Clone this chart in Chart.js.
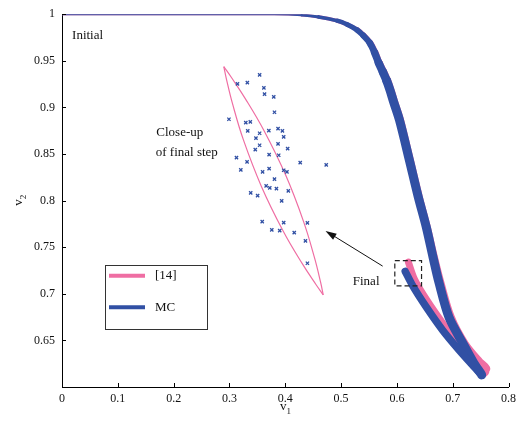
<!DOCTYPE html>
<html><head><meta charset="utf-8">
<script src="https://cdn.jsdelivr.net/npm/chart.js@4/dist/chart.umd.min.js"></script>
<style>html,body{margin:0;padding:0;background:#fff}#wrap{width:521px;height:424px}</style>
</head><body><div id="wrap"><canvas id="c" width="521" height="424"></canvas></div>
<script>
// ---- data ----
const xTickValues = [0, 0.1, 0.2, 0.3, 0.4, 0.5, 0.6, 0.7, 0.8];
const xTickLabels = ['0', '0.1', '0.2', '0.3', '0.4', '0.5', '0.6', '0.7', '0.8'];
const yTickValues = [0.6, 0.65, 0.7, 0.75, 0.8, 0.85, 0.9, 0.95, 1];
const yTickLabels = ['', '0.65', '0.7', '0.75', '0.8', '0.85', '0.9', '0.95', '1'];

// MC trajectory band (v1, v2)
const mcV1 = [0, 0.25, 0.38, 0.43, 0.46, 0.493, 0.511, 0.5284, 0.540, 0.5514, 0.560, 0.5674, 0.575, 0.5816, 0.588, 0.5940, 0.6046, 0.6223, 0.6383, 0.6525, 0.6649, 0.6755, 0.6933, 0.7181, 0.7376, 0.752,
              0.735, 0.711, 0.682, 0.6525, 0.629, 0.615];
const mcV2 = [1, 1, 1, 0.999, 0.997, 0.993, 0.989, 0.9832, 0.977, 0.9692, 0.959, 0.9477, 0.938, 0.9289, 0.918, 0.9063, 0.8866, 0.8437, 0.804, 0.772, 0.739, 0.712, 0.675, 0.647, 0.626, 0.613,
              0.624, 0.640, 0.661, 0.686, 0.708, 0.724];

// [14] trajectory band
const refV1 = [0, 0.25, 0.38, 0.43, 0.46, 0.493, 0.511, 0.5294, 0.541, 0.5524, 0.561, 0.5684, 0.576, 0.5826, 0.589, 0.5950, 0.6056, 0.6233, 0.6393, 0.6535, 0.6665, 0.678, 0.6965, 0.722, 0.748, 0.760,
               0.757, 0.735, 0.712, 0.684, 0.655, 0.632, 0.6206];
const refV2 = [1, 1, 1, 0.999, 0.997, 0.993, 0.989, 0.9832, 0.977, 0.9692, 0.959, 0.9477, 0.938, 0.9289, 0.918, 0.9063, 0.8866, 0.8437, 0.804, 0.772, 0.739, 0.712, 0.675, 0.646, 0.627, 0.620,
               0.615, 0.628, 0.645, 0.667, 0.692, 0.715, 0.734];

// close-up lens of the final step ([14]): right and left outlines, top vertex to bottom vertex
const lensRightV1 = [0.2899, 0.3030, 0.3278, 0.3618, 0.4009, 0.4330, 0.4525, 0.4634, 0.4681];
const lensRightV2 = [0.9438, 0.9326, 0.9100, 0.8752, 0.8271, 0.7772, 0.7385, 0.7122, 0.6988];
const lensLeftV1 = [0.2899, 0.2946, 0.3055, 0.3249, 0.3571, 0.3962, 0.4302, 0.4550, 0.4681];
const lensLeftV2 = [0.9438, 0.9304, 0.9040, 0.8654, 0.8155, 0.7674, 0.7326, 0.7100, 0.6988];

// close-up MC samples of the final step
const ptsV1 = [0.3541, 0.3144, 0.3321, 0.3617, 0.3629, 0.3794, 0.3807, 0.2991, 0.3293, 0.3374, 0.3871, 0.3949, 0.3328, 0.3541, 0.3706, 0.3972,
               0.3475, 0.3541, 0.3871, 0.3463, 0.4043, 0.3126, 0.3711, 0.3883, 0.3316, 0.4268, 0.4734, 0.3204, 0.3711, 0.3594, 0.3972, 0.4030,
               0.3807, 0.3658, 0.3723, 0.3842, 0.4055, 0.3381, 0.3505, 0.3936, 0.3587, 0.3972, 0.4397, 0.3759, 0.3901, 0.4161, 0.4362, 0.4397];
const ptsV2 = [0.9349, 0.9252, 0.9266, 0.9209, 0.9142, 0.9113, 0.8948, 0.8873, 0.8837, 0.8844, 0.8773, 0.8748, 0.8748, 0.8723, 0.8751, 0.8683,
               0.8670, 0.8594, 0.8608, 0.8547, 0.8558, 0.8461, 0.8494, 0.8487, 0.8415, 0.8408, 0.8383, 0.8329, 0.8343, 0.8308, 0.8326, 0.8308,
               0.8230, 0.8158, 0.8136, 0.8129, 0.8104, 0.8083, 0.8054, 0.7997, 0.7775, 0.7764, 0.7761, 0.7686, 0.7678, 0.7657, 0.7568, 0.7328];

const seriesNames = ['[14]', 'MC'];

// ---- styling ----
const BLUE = '#3150a4';
const PINK = '#ef6ea3';
const FONT = "'Liberation Serif', 'Times New Roman', serif";

const pairs = (xs, ys) => xs.map((x, i) => ({x: x, y: ys[i]}));
const tipIndex = xs => xs.indexOf(Math.max(...xs));

// band thickness grows smoothly as the trajectories spread out
function bandWidth(xs, lowWidth, returnWidth) {
  const tip = tipIndex(xs);
  return ctx => {
    if (ctx.p0DataIndex >= tip) return returnWidth;
    const y = (ctx.p0.parsed.y + ctx.p1.parsed.y) / 2;
    const f = Math.min(1, Math.max(0, (0.9995 - y) / 0.075));
    return 2 + (lowWidth - 2) * Math.sqrt(f);
  };
}

const annotate = {
  id: 'annotate',
  afterDatasetsDraw(chart) {
    const c = chart.ctx, xs = chart.scales.x, ys = chart.scales.y, a = chart.chartArea;
    const X = v => xs.getPixelForValue(v), Y = v => ys.getPixelForValue(v);
    c.save();
    // inward tick marks
    c.strokeStyle = '#000'; c.lineWidth = 1;
    c.beginPath();
    xTickValues.forEach(v => { const p = Math.round(X(v)) + 0.5; c.moveTo(p, a.bottom); c.lineTo(p, a.bottom - 4); });
    yTickValues.forEach(v => { const p = Math.round(Y(v)) + 0.5; c.moveTo(a.left, p); c.lineTo(a.left + 4, p); });
    c.stroke();

    // texts
    c.fillStyle = '#111';
    c.font = '13px ' + FONT;
    c.textBaseline = 'middle'; c.textAlign = 'left';
    c.fillText('Initial', X(0.018), Y(0.977));
    c.fillText('Close-up', X(0.169), Y(0.8726));
    c.fillText('of final step', X(0.168), Y(0.852));
    c.fillText('Final', X(0.521), Y(0.7128));

    // dashed box around final step
    c.strokeStyle = '#222'; c.lineWidth = 1.2;
    c.setLineDash([5, 3]);
    const bx0 = X(0.5963), bx1 = X(0.6442), by0 = Y(0.7356), by1 = Y(0.7085);
    c.strokeRect(bx0, by0, bx1 - bx0, by1 - by0);
    c.setLineDash([]);

    // arrow
    const tx = X(0.5745), ty = Y(0.7297), hx = X(0.4722), hy = Y(0.7675);
    const ang = Math.atan2(hy - ty, hx - tx);
    c.strokeStyle = '#111'; c.lineWidth = 1;
    c.beginPath(); c.moveTo(tx, ty); c.lineTo(hx - 8 * Math.cos(ang), hy - 8 * Math.sin(ang)); c.stroke();
    c.fillStyle = '#111';
    c.beginPath();
    c.moveTo(hx, hy);
    c.lineTo(hx - 11 * Math.cos(ang) + 3.5 * Math.sin(ang), hy - 11 * Math.sin(ang) - 3.5 * Math.cos(ang));
    c.lineTo(hx - 11 * Math.cos(ang) - 3.5 * Math.sin(ang), hy - 11 * Math.sin(ang) + 3.5 * Math.cos(ang));
    c.closePath(); c.fill();

    // legend box
    const lx = a.left + 43, ly = a.top + 251, lw = 102, lh = 64;
    c.strokeStyle = '#333'; c.lineWidth = 1;
    c.strokeRect(Math.round(lx) + 0.5, Math.round(ly) + 0.5, lw, lh);
    const colors = [PINK, BLUE];
    seriesNames.forEach((name, i) => {
      const yy = ly + 10.5 + i * 31.5;
      c.strokeStyle = colors[i]; c.lineWidth = 4; c.lineCap = 'butt';
      c.beginPath(); c.moveTo(lx + 4, yy); c.lineTo(lx + 40, yy); c.stroke();
      c.fillStyle = '#111'; c.font = '13px ' + FONT; c.textAlign = 'left'; c.textBaseline = 'middle';
      c.fillText(name, lx + 50, yy);
    });

    // axis titles with subscripts
    c.fillStyle = '#111';
    c.textAlign = 'center'; c.textBaseline = 'alphabetic';
    const cx = (a.left + a.right) / 2;
    c.font = '13px ' + FONT;
    c.fillText('v', cx - 2, 410);
    c.font = '9px ' + FONT;
    c.fillText('1', cx + 3.5, 414);
    c.translate(22, (a.top + a.bottom) / 2);
    c.rotate(-Math.PI / 2);
    c.font = '13px ' + FONT;
    c.fillText('v', -2, 0);
    c.font = '9px ' + FONT;
    c.fillText('2', 3.5, 4);
    c.restore();
  }
};

const lensStyle = {showLine: true, pointRadius: 0, borderColor: PINK, borderWidth: 1.2, tension: 0.4, order: 1};

new Chart(document.getElementById('c'), {
  type: 'scatter',
  data: {
    datasets: [
      {label: 'samples', data: pairs(ptsV1, ptsV2), pointStyle: 'crossRot', pointRadius: 2.3,
       borderColor: BLUE, backgroundColor: BLUE, pointBorderWidth: 1.3, showLine: false, order: 0},
      Object.assign({label: 'lens right', data: pairs(lensRightV1, lensRightV2)}, lensStyle),
      Object.assign({label: 'lens left', data: pairs(lensLeftV1, lensLeftV2)}, lensStyle),
      {label: seriesNames[1], data: pairs(mcV1, mcV2), showLine: true, pointRadius: 0, borderColor: BLUE,
       borderWidth: 8, tension: 0.3, borderCapStyle: 'round', borderJoinStyle: 'round',
       segment: {borderWidth: bandWidth(mcV1, 9, 7.5)}, order: 2},
      {label: seriesNames[0], data: pairs(refV1, refV2), showLine: true, pointRadius: 0, borderColor: PINK,
       borderWidth: 8, tension: 0.3, borderCapStyle: 'round', borderJoinStyle: 'round',
       segment: {borderWidth: bandWidth(refV1, 8, 7)}, order: 3}
    ]
  },
  options: {
    responsive: false, animation: false, devicePixelRatio: 1,
    layout: {padding: {top: 14, right: 8, left: 0, bottom: 0}},
    plugins: {legend: {display: false}, tooltip: {enabled: false}},
    scales: {
      x: {
        type: 'linear', min: 0, max: 0.8,
        afterBuildTicks: s => { s.ticks = xTickValues.map(v => ({value: v})); },
        afterFit: s => { s.height = 37; },
        ticks: {callback: (v, i) => xTickLabels[i], color: '#111', font: {family: FONT, size: 12}, padding: 5, maxRotation: 0, autoSkip: false},
        grid: {display: true, drawOnChartArea: false, drawTicks: false},
        border: {display: true, color: '#000', width: 1}
      },
      y: {
        type: 'linear', min: 0.6, max: 1,
        afterBuildTicks: s => { s.ticks = yTickValues.map(v => ({value: v})); },
        afterFit: s => { s.width = 62; },
        ticks: {callback: (v, i) => yTickLabels[i], color: '#111', font: {family: FONT, size: 12}, padding: 7, autoSkip: false},
        grid: {display: true, drawOnChartArea: false, drawTicks: false},
        border: {display: true, color: '#000', width: 1}
      }
    }
  },
  plugins: [annotate]
});
</script>
</body></html>
